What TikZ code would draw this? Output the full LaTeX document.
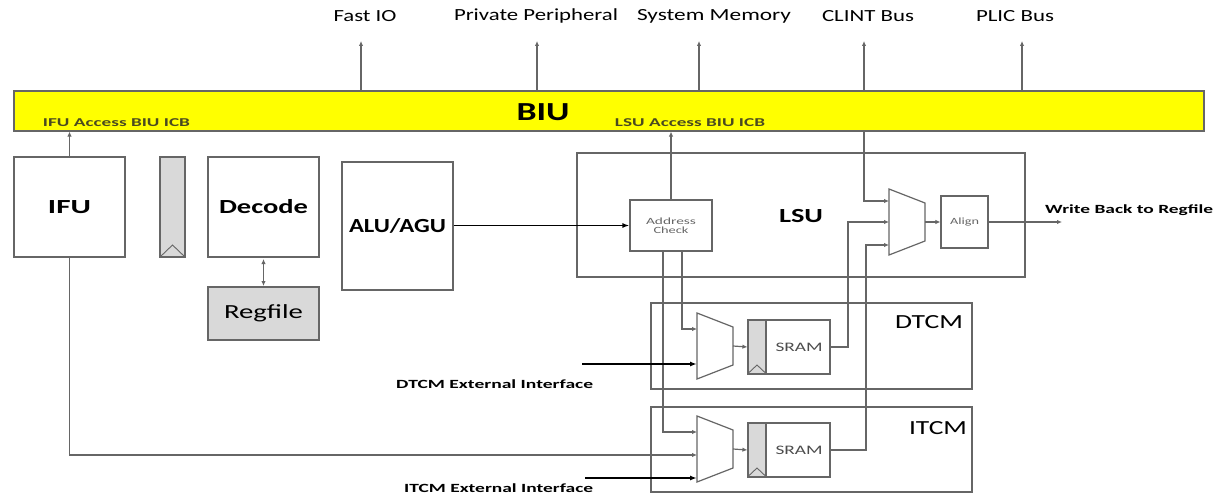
\documentclass[tikz,border=0pt]{standalone}
\usepackage{fontspec}
\usepackage{graphicx}
\setmainfont{Carlito}
\usetikzlibrary{arrows.meta}
\definecolor{ln}{HTML}{666666}
\definecolor{gfill}{HTML}{D9D9D9}
\definecolor{biuy}{HTML}{FFFF00}
\definecolor{lbl}{HTML}{4A4A20}
\newcommand{\fw}[2]{\resizebox{#1}{\height}{#2}}
\tikzset{
  box/.style={draw=ln, line width=1.2pt, fill=white, inner sep=0pt},
  conn/.style={draw=ln, line width=1.2pt},
  tip/.style={-{Latex[length=5pt,width=4.5pt]}},
  thick conn/.style={draw=black, line width=1.4pt, -{Latex[length=7pt,width=5pt]}},
  big/.style={font=\fontsize{20}{20}\selectfont\bfseries},
  med/.style={font=\fontsize{20}{20}\selectfont},
  toplbl/.style={font=\fontsize{17}{17}\selectfont, inner sep=0pt},
  small/.style={font=\fontsize{12.5}{12.5}\selectfont\bfseries, inner sep=0pt},
  tiny/.style={font=\fontsize{9.5}{10}\selectfont, text=black!60},
}
\newcommand{\mymux}[4]{% name, x, ytop, ybot
  \draw[box] (#2,#3) -- (#2+36,#3+14) -- (#2+36,#4-14) -- (#2,#4) -- cycle;
  \coordinate (#1-out) at (#2+36,{(#3+#4)/2});
}
\newcommand{\mysram}[3]{% name, y center, text name
  \node[box, minimum width=82pt, minimum height=53pt] (#1) at (789,#2) {};
  \fill[gfill] (748,#2-26.5) rectangle (766,#2+26.5);
  \draw[ln, line width=1.2pt] (748,#2-26.5) rectangle (766,#2+26.5);
  \draw[ln, line width=0.9pt] (748,#2+26.5) -- (757,#2+18) -- (766,#2+26.5);
  \draw[ln, line width=1.2pt] (#1.north west) rectangle (#1.south east);
  \node[font=\fontsize{13}{13}\selectfont, text=black!70, inner sep=0pt] (#3) at (799,#2) {\fw{47pt}{SRAM}};
}
\begin{document}
\begin{tikzpicture}[x=1pt,y=-1pt]
\useasboundingbox (0,0) rectangle (1214,495);
% BIU
\node[draw=ln, line width=1.2pt, fill=biuy, minimum width=1190pt, minimum height=40pt, inner sep=0pt] (biu) at (609,111) {};
\node[font=\fontsize{26}{26}\selectfont\bfseries, inner sep=0pt] (biut) at (543,112) {\fw{53pt}{BIU}};
\node[font=\fontsize{12}{12}\selectfont\bfseries, text=lbl, inner sep=0pt] (ifuacc) at (116.5,123) {\fw{147pt}{IFU Access BIU ICB}};
\node[font=\fontsize{12}{12}\selectfont\bfseries, text=lbl, inner sep=0pt] (lsuacc) at (690,123) {\fw{150pt}{LSU Access BIU ICB}};
% top labels
\node[toplbl] (fio) at (365,16) {\fw{63pt}{Fast IO}};
\node[toplbl] (pp) at (536,16) {\fw{164pt}{Private Peripheral}};
\node[toplbl] (sm) at (714,16) {\fw{154pt}{System Memory}};
\node[toplbl] (clint) at (868,16) {\fw{92pt}{CLINT Bus}};
\node[toplbl] (plic) at (1015,16) {\fw{78pt}{PLIC Bus}};
\foreach \n/\x in {fio/361,pp/537,sm/699,clint/864,plic/1022}{
  \coordinate (\n-t) at (\x,41);
  \draw[conn, tip] (\x,91) -- (\n-t);
}
% left blocks
\node[box, big, minimum width=111pt, minimum height=100pt] (ifu) at (69.5,207) {\fw{43pt}{IFU}};
\node[box, fill=gfill, minimum width=25pt, minimum height=100pt] (preg) at (172.5,207) {};
\draw[ln, line width=0.9pt] (160,257) -- (172.5,245) -- (185,257);
\node[box, big, minimum width=111pt, minimum height=100pt] (dec) at (263.5,207) {\fw{89pt}{Decode}};
\node[box, med, fill=gfill, minimum width=111pt, minimum height=53pt] (rf) at (263.5,313.5) {\fw{79pt}{Regfile}};
\node[box, big, minimum width=111pt, minimum height=128pt] (alu) at (397.5,226) {\fw{97pt}{ALU/AGU}};
% LSU
\node[box, minimum width=448pt, minimum height=124pt] (lsu) at (801,215) {};
\node[big, inner sep=0pt] (lsut) at (801,216) {\fw{44pt}{LSU}};
% DTCM / ITCM
\node[box, minimum width=321pt, minimum height=86pt] (dtcm) at (811.5,346) {};
\node[med, inner sep=0pt] (dtcmt) at (929,322) {\fw{68pt}{DTCM}};
\node[box, minimum width=321pt, minimum height=85pt] (itcm) at (811.5,449.5) {};
\node[med, inner sep=0pt] (itcmt) at (938,428) {\fw{58pt}{ITCM}};
% address check, align
\node[box, tiny, minimum width=82pt, minimum height=51pt, align=center] (addr) at (671,225.5) {\fw{50pt}{Address}\\[-1pt]\fw{35pt}{Check}};
\node[box, tiny, minimum width=47pt, minimum height=52pt] (align) at (964.5,222) {\fw{29pt}{Align}};
% muxes
\mymux{omux}{889}{189}{255}
\mymux{dmux}{697}{313}{379}
\mymux{imux}{697}{416}{482}
\coordinate (omux-a) at (889,201);
\coordinate (omux-b) at (889,222);
\coordinate (omux-c) at (889,245);
\coordinate (dmux-a) at (697,329);
\coordinate (dmux-b) at (697,364);
\coordinate (imux-a) at (697,432);
\coordinate (imux-b) at (697,455);
\coordinate (imux-c) at (697,478);
% SRAMs
\mysram{dsram}{347}{dsramt}
\mysram{isram}{450}{isramt}
% connectors
\draw[conn, tip] (ifu.north) -- (ifu.north |- biu.south);
\draw[conn, {Latex[length=5pt,width=4.5pt]}-{Latex[length=5pt,width=4.5pt]}] (263.5,259) -- (263.5,286);
\draw[thick conn] (alu.east |- addr.west) -- (addr.west);
\draw[conn, tip] (addr.north) -- (addr.north |- biu.south);
\draw[conn, tip] (864,131) -- (864,201) -- (omux-a);
\draw[conn, tip] (omux-out) -- (align.west);
\coordinate (wb) at (1062,222);
\draw[conn, tip] (align.east) -- (wb);
\node[small, anchor=west] (wbt) at (1045,210) {\fw{168pt}{Write Back to Regfile}};
\draw[conn, tip] (682,251) -- (682,329) -- (dmux-a);
\draw[conn, tip] (663,251) -- (663,432) -- (imux-a);
\draw[conn, tip] (dmux-out) -- (dsram.west);
\draw[conn, tip] (imux-out) -- (isram.west);
\draw[conn, tip] (dsram.east) -- (848,347) -- (848,222) -- (omux-b);
\draw[conn, tip] (isram.east) -- (866,450) -- (866,245) -- (omux-c);
\draw[conn, tip] (ifu.south) -- (69.5,455) -- (imux-b);
\coordinate (dext) at (582,364);
\coordinate (iext) at (585,478);
\draw[thick conn] (dext) -- (dmux-b);
\draw[thick conn] (iext) -- (imux-c);
\node[small, anchor=west] (dextt) at (396,384) {\fw{197pt}{DTCM External Interface}};
\node[small, anchor=west] (iextt) at (404,488) {\fw{189pt}{ITCM External Interface}};
\end{tikzpicture}
\end{document}
